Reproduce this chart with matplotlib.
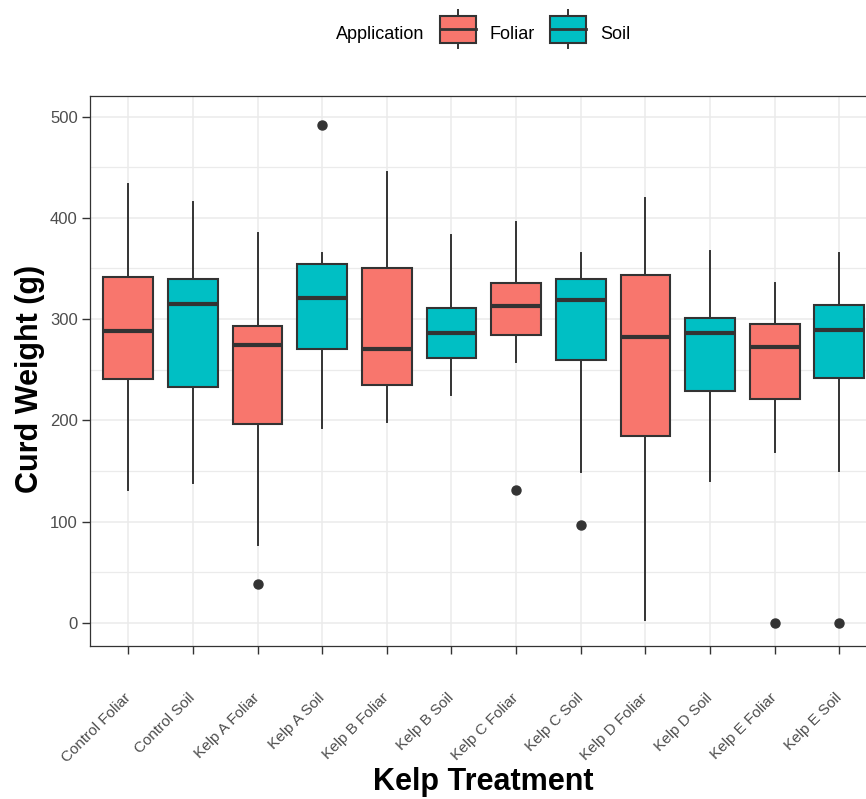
import matplotlib
matplotlib.use("Agg")
import matplotlib.pyplot as plt
from matplotlib.patches import Rectangle, Patch
from matplotlib.lines import Line2D
from matplotlib.legend_handler import HandlerBase
from matplotlib.ticker import MultipleLocator

plt.rcParams['font.family'] = ['Liberation Sans', 'DejaVu Sans']

# ---------------- data ----------------
categories = ["Control Foliar", "Control Soil", "Kelp A Foliar", "Kelp A Soil",
              "Kelp B Foliar", "Kelp B Soil", "Kelp C Foliar", "Kelp C Soil",
              "Kelp D Foliar", "Kelp D Soil", "Kelp E Foliar", "Kelp E Soil"]
application = ["Foliar", "Soil"] * 6
whisker_low = [131, 138, 77, 192, 198, 225, 258, 149, 3, 140, 169, 150]
q1 = [241, 233, 196, 270, 235, 262, 284, 260, 184, 229, 221, 242]
median = [288, 315, 274, 321, 270, 286, 313, 319, 282, 286, 272, 289]
q3 = [342, 340, 293, 354, 350, 311, 336, 340, 344, 301, 295, 314]
whisker_high = [433, 416, 385, 365, 445, 383, 396, 365, 420, 367, 336, 365]
outliers = [[], [], [38], [492], [], [], [131], [97], [], [], [0], [0]]
y_ticks = [0, 100, 200, 300, 400, 500]

colors = {"Foliar": "#F8766D", "Soil": "#00BFC4"}
dark = "#333333"

W, H = 866, 799
fig = plt.figure(figsize=(W / 100, H / 100), dpi=100)
left_px, right_px, top_px, bot_px = 89.5, 878.1, 96, 646
ax = fig.add_axes([left_px / W, (H - bot_px) / H, (right_px - left_px) / W, (bot_px - top_px) / H])

stats = []
for i in range(len(categories)):
    stats.append(dict(med=median[i], q1=q1[i], q3=q3[i], whislo=whisker_low[i],
                      whishi=whisker_high[i], fliers=outliers[i], label=categories[i]))

positions = list(range(1, len(categories) + 1))
bp = ax.bxp(stats, positions=positions, widths=0.77, patch_artist=True, showcaps=False,
            boxprops=dict(edgecolor=dark, linewidth=1.5),
            medianprops=dict(color=dark, linewidth=3.0, solid_capstyle='butt'),
            whiskerprops=dict(color=dark, linewidth=1.4),
            flierprops=dict(marker='o', markerfacecolor=dark, markeredgecolor=dark,
                            markersize=6.5))
for patch, app in zip(bp['boxes'], application):
    patch.set_facecolor(colors[app])

ax.set_xlim(0.4, 12.6)
ax.set_ylim(-23, 520.4)
ax.set_xticks(positions)
ax.set_xticklabels(categories, rotation=45, ha='right', va='center', rotation_mode='anchor',
                   fontsize=11, color='#4D4D4D')
ax.set_yticks(y_ticks)
ax.set_yticklabels([str(v) for v in y_ticks], fontsize=12, color='#4D4D4D')
ax.yaxis.set_minor_locator(MultipleLocator(50))

ax.set_axisbelow(True)
ax.grid(which='major', axis='both', color='#EBEBEB', linewidth=1.1)
ax.grid(which='minor', axis='y', color='#EBEBEB', linewidth=0.9)
ax.tick_params(axis='y', which='minor', length=0)
ax.tick_params(axis='both', which='major', length=5.5, width=1.0, color=dark)
ax.tick_params(axis='y', which='major', pad=3)
ax.tick_params(axis='x', which='major', pad=30.5)
for s in ax.spines.values():
    s.set_color(dark)
    s.set_linewidth(0.9)

ax.set_xlabel("Kelp Treatment", fontsize=22, fontweight='bold', va='baseline')
ax.xaxis.set_label_coords((483 - left_px) / (right_px - left_px), (bot_px - 790) / (bot_px - top_px))
ax.set_ylabel("Curd Weight (g)", fontsize=22, fontweight='bold', va='center')
ax.yaxis.set_label_coords((30 - left_px) / (right_px - left_px), (bot_px - 379) / (bot_px - top_px))


class BoxHandler(HandlerBase):
    # legend key drawn like a small boxplot glyph (sizes in points)
    def create_artists(self, legend, orig_handle, xdescent, ydescent, width, height, fontsize, trans):
        x0, y0 = -xdescent, -ydescent
        total = 27.4
        face = orig_handle.get_facecolor()
        rect = Rectangle((x0, y0 + 0.115 * total), width, 0.71 * total, facecolor=face,
                         edgecolor=dark, linewidth=1.5, transform=trans)
        wt = Line2D([x0 + width / 2] * 2, [y0 + 0.825 * total, y0 + total], color=dark,
                    linewidth=1.4, transform=trans)
        wb = Line2D([x0 + width / 2] * 2, [y0, y0 + 0.115 * total], color=dark,
                    linewidth=1.4, transform=trans)
        med = Line2D([x0, x0 + width], [y0 + 0.485 * total] * 2, color=dark,
                     linewidth=2.0, transform=trans)
        return [wt, wb, rect, med]


handles = [Patch(facecolor=colors[k]) for k in ["Foliar", "Soil"]]
fig.legend(handles, ["Foliar", "Soil"], handler_map={Patch: BoxHandler()}, ncol=2,
           loc='lower left', bbox_to_anchor=(440 / W, 1 - 47.8 / H), frameon=False,
           fontsize=13, handlelength=2.0, handleheight=2.1, handletextpad=0.75,
           columnspacing=0.85, borderpad=0, borderaxespad=0)
fig.text(336 / W, 1 - 39 / H, "Application", fontsize=13, ha='left', va='baseline')

fig.savefig("out.png", dpi=100)
